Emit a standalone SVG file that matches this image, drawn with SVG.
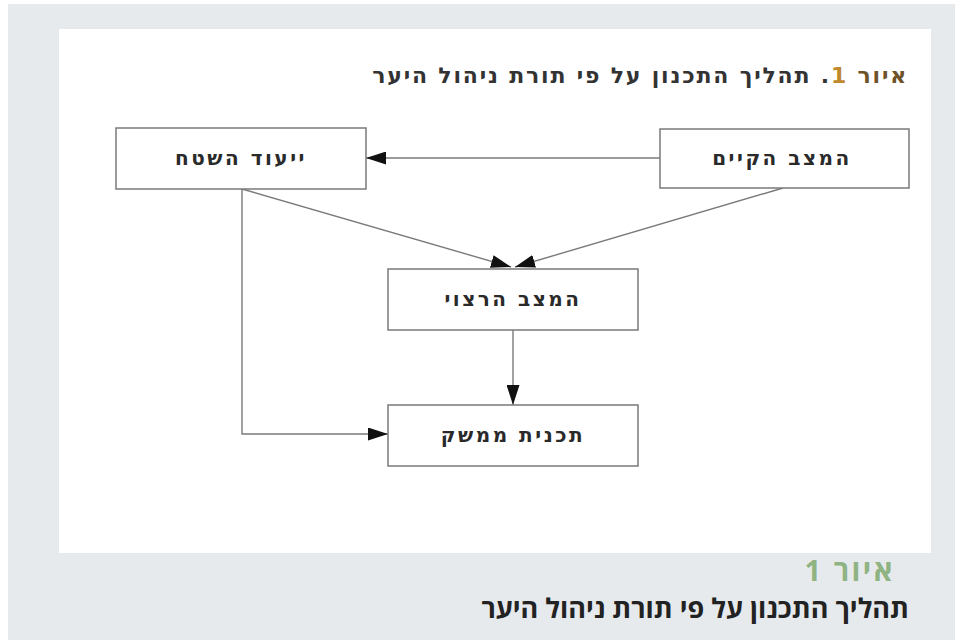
<svg xmlns="http://www.w3.org/2000/svg" width="955" height="640" viewBox="0 0 955 640">
<defs>
<style>
.box{fill:#fff;stroke:#7a7a7a;stroke-width:1.5}
.lbl{font-family:"DejaVu Sans",sans-serif;font-weight:bold;font-size:20px;letter-spacing:2.5px;fill:#2a2a2a;text-anchor:middle}
.con{fill:none;stroke:#7a7a7a;stroke-width:1.4}
</style>
<marker id="ah" markerUnits="userSpaceOnUse" markerWidth="20" markerHeight="13" refX="20" refY="6.5" orient="auto" viewBox="0 0 20 13">
<path d="M0,0 L20,6.5 L0,13 z" fill="#111"/>
</marker>
</defs>
<rect x="0" y="0" width="955" height="640" fill="#fff"/>
<rect x="8" y="4" width="947" height="636" fill="#e7eaed"/>
<rect x="59" y="29" width="872" height="524" fill="#fff"/>
<text x="908" y="83" direction="rtl" text-anchor="start" font-family="DejaVu Sans, sans-serif" font-weight="bold" font-size="22" letter-spacing="1.8" fill="#333"><tspan fill="#6e5228">איור </tspan><tspan fill="#c0892c">1</tspan>. תהליך התכנון על פי תורת ניהול היער</text>
<g id="connectors">
<line class="con" x1="660" y1="158" x2="366" y2="158" marker-end="url(#ah)"/>
<line class="con" x1="242" y1="189" x2="511" y2="267" marker-end="url(#ah)"/>
<line class="con" x1="783" y1="188" x2="515" y2="267" marker-end="url(#ah)"/>
<line class="con" x1="513" y1="330" x2="513" y2="405" marker-end="url(#ah)"/>
<polyline class="con" points="242,189 242,434 388,434" marker-end="url(#ah)"/>
</g>
<g id="node-current">
<rect class="box" x="660" y="129" width="249" height="59"/>
<text class="lbl" x="782" y="165">המצב הקיים</text>
</g>
<g id="node-designation">
<rect class="box" x="116" y="128" width="250" height="61"/>
<text class="lbl" x="241" y="165">ייעוד השטח</text>
</g>
<g id="node-desired">
<rect class="box" x="388" y="269" width="250" height="61"/>
<text class="lbl" x="513" y="306">המצב הרצוי</text>
</g>
<g id="node-plan">
<rect class="box" x="388" y="405" width="250" height="61"/>
<text class="lbl" x="513" y="442">תכנית ממשק</text>
</g>
<text x="895" y="581" direction="rtl" text-anchor="start" font-family="Open Sans, DejaVu Sans, sans-serif" font-weight="bold" font-size="29" letter-spacing="2.5" fill="#8fb382">איור 1</text>
<text x="909" y="618" direction="rtl" text-anchor="start" font-family="Open Sans, DejaVu Sans, sans-serif" font-weight="bold" font-size="27" fill="#222">תהליך התכנון על פי תורת ניהול היער</text>
</svg>
